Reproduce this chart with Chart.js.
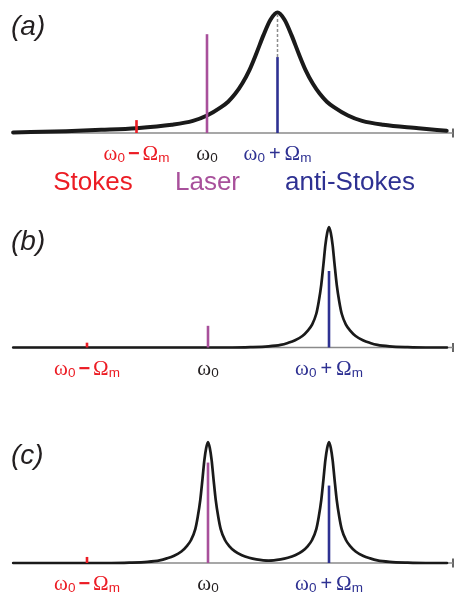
<!DOCTYPE html>
<html>
<head>
<meta charset="utf-8">
<script src="https://cdn.jsdelivr.net/npm/chart.js@4.4.0/dist/chart.umd.min.js"></script>
<style>
  html, body { margin: 0; padding: 0; background: #fff; overflow: hidden; }
  #wrap { position: relative; width: 454px; height: 593px; }
  canvas { position: absolute; left: 0; }
</style>
</head>
<body>
<div id="wrap">
  <canvas id="chartA" width="454" height="200" style="top:0"></canvas>
  <canvas id="chartB" width="454" height="200" style="top:200px"></canvas>
  <canvas id="chartC" width="454" height="193" style="top:400px"></canvas>
</div>
<script>
// frequency in units of Omega_m, with omega_0 = 0; heights relative to cavity peak
const lineX = [-1, 0, 1]; // Stokes, laser, anti-Stokes
const tickLabels = ["ω0−Ωm", "ω0", "ω0+Ωm"];
const words = ["Stokes", "Laser", "anti-Stokes"];
const panelNames = ["(a)", "(b)", "(c)"];

const aLineY = [0.107, 0.82, 0.63];
const bLineY = [0.04, 0.18, 0.635];
const cLineY = [0.05, 0.83, 0.64];
const aDashY = [0.63, 1.0];

const aCurveX = [-2.75, -2.0, -1.5, -1.0, -0.5, -0.2, 0.0, 0.2, 0.3, 0.4, 0.5, 0.6, 0.7, 0.8, 0.9, 1.0,
  1.1, 1.2, 1.3, 1.4, 1.5, 1.6, 1.7, 1.8, 2.0, 2.2, 2.5, 3.0, 3.4];
const aCurveY = [0.004, 0.015, 0.026, 0.04, 0.068, 0.10, 0.145, 0.215, 0.26, 0.325, 0.41, 0.52, 0.66, 0.81, 0.94, 1.0,
  0.94, 0.81, 0.66, 0.52, 0.41, 0.325, 0.26, 0.215, 0.145, 0.10, 0.068, 0.04, 0.018];

const bCurveX = [-1.61, 0.2, 0.35, 0.5, 0.6, 0.66, 0.72, 0.78, 0.825, 0.86, 0.895, 0.915, 0.936, 0.955, 0.97, 0.985, 1.0,
  1.015, 1.03, 1.045, 1.064, 1.085, 1.105, 1.14, 1.175, 1.22, 1.28, 1.34, 1.4, 1.5, 1.65, 1.8, 1.975];
const bCurveY = [0, 0, 0.003, 0.01, 0.022, 0.038, 0.06, 0.095, 0.14, 0.19, 0.28, 0.38, 0.52, 0.70, 0.85, 0.95, 1.0,
  0.95, 0.85, 0.70, 0.52, 0.38, 0.28, 0.19, 0.14, 0.095, 0.06, 0.038, 0.022, 0.01, 0.003, 0, 0];

const cCurveX = [-1.61, -0.8, -0.65, -0.5, -0.4, -0.34, -0.28, -0.22, -0.175, -0.14, -0.105, -0.085, -0.064, -0.045, -0.03, -0.015, 0,
  0.015, 0.03, 0.045, 0.064, 0.085, 0.105, 0.14, 0.175, 0.22, 0.28, 0.34, 0.4, 0.5, 0.6, 0.66, 0.72, 0.78, 0.825, 0.86,
  0.895, 0.915, 0.936, 0.955, 0.97, 0.985, 1.0, 1.015, 1.03, 1.045, 1.064, 1.085, 1.105, 1.14, 1.175, 1.22, 1.28,
  1.34, 1.4, 1.5, 1.65, 1.8, 1.975];
const cCurveY = [0, 0, 0.003, 0.01, 0.022, 0.038, 0.06, 0.095, 0.14, 0.19, 0.28, 0.38, 0.52, 0.70, 0.85, 0.95, 1.0,
  0.95, 0.85, 0.70, 0.52, 0.38, 0.28, 0.19, 0.14, 0.098, 0.064, 0.043, 0.03, 0.02, 0.03, 0.043, 0.064, 0.098, 0.14, 0.19,
  0.28, 0.38, 0.52, 0.70, 0.85, 0.95, 1.0, 0.95, 0.85, 0.70, 0.52, 0.38, 0.28, 0.19, 0.14, 0.095, 0.06,
  0.038, 0.022, 0.01, 0.003, 0, 0];

const stickColors = ["#ec1c24", "#a8509b", "#2e3192"];
const labelColors = ["#ec1c24", "#231f20", "#2e3192"];

function pts(xs, ys) {
  return xs.map((x, i) => ({ x: x, y: ys[i] }));
}

// draws w0-Wm style labels: '0' and 'm' as subscripts
function mathLabel(ctx, text, cx, base, color) {
  const parts = [];
  for (const ch of text) {
    if (ch === "0" || ch === "m") parts.push({ ch, font: '13.5px "Liberation Sans"', dy: 2, pad: 0 });
    else if (ch === "ω" || ch === "Ω") parts.push({ ch, font: '21px "Liberation Serif"', dy: 0, pad: 0 });
    else if (ch === "−") parts.push({ ch, font: 'bold 20px "Liberation Sans"', dy: 0, pad: 3 });
    else parts.push({ ch, font: '20px "Liberation Sans"', dy: 0, pad: 4 });
  }
  let w = 0;
  parts.forEach(p => { ctx.font = p.font; p.w = ctx.measureText(p.ch).width; w += p.w + 2 * p.pad; });
  let x = cx - w / 2;
  ctx.fillStyle = color;
  ctx.textAlign = "left";
  ctx.textBaseline = "alphabetic";
  parts.forEach(p => {
    ctx.font = p.font;
    x += p.pad;
    ctx.fillText(p.ch, x, base + p.dy);
    x += p.w + p.pad;
  });
}

const labelPlugin = {
  id: "labels",
  afterDatasetsDraw(chart, args, opts) {
    const ctx = chart.ctx;
    const xs = chart.scales.x, ys = chart.scales.y;
    const base = ys.getPixelForValue(0) + 27;
    ctx.save();
    lineX.forEach((v, i) => mathLabel(ctx, tickLabels[i], xs.getPixelForValue(v), base, labelColors[i]));
    ctx.fillStyle = "#231f20";
    ctx.font = 'italic 28px "Liberation Sans"';
    ctx.textAlign = "left";
    ctx.fillText(opts.name, 11, opts.nameY);
    if (opts.words) {
      const cx = [93, 207.5, 350];
      ctx.font = '26px "Liberation Sans"';
      ctx.textAlign = "center";
      words.forEach((t, i) => {
        ctx.fillStyle = stickColors[i];
        ctx.fillText(t, cx[i], 190);
      });
    }
    ctx.restore();
  }
};

function makeChart(id, c) {
  const yMin = -0.2, yMax = 1.08;
  const h = document.getElementById(id).height;
  const datasets = [];
  lineX.forEach((x, i) => {
    datasets.push({
      data: pts([x, x], [0, c.stickY[i]]),
      borderColor: stickColors[i], borderWidth: 2.6, order: 0
    });
  });
  if (c.dashY) {
    datasets.push({
      data: pts([1, 1], c.dashY),
      borderColor: "#8c8c8c", borderWidth: 1.5, borderDash: [3, 2], order: 1
    });
  }
  datasets.push({
    data: pts(c.curveX, c.curveY),
    borderColor: "#1a1a1a", borderWidth: c.curveWidth, cubicInterpolationMode: "monotone",
    borderJoinStyle: "round", borderCapStyle: "round", order: 2
  });
  datasets.push({
    data: pts([c.xMin, c.xMax], [0, 0]),
    borderColor: "#8a8a8a", borderWidth: 1.5, order: 3
  });
  datasets.push({
    data: pts([c.xMax, c.xMax], [-0.037, 0.037]),
    borderColor: "#333333", borderWidth: 1.5, order: 3
  });
  datasets.forEach(d => { d.pointRadius = 0; d.fill = false; d.clip = false; });

  return new Chart(id, {
    type: "line",
    data: { datasets: datasets },
    options: {
      responsive: false,
      animation: false,
      events: [],
      layout: {
        padding: {
          left: 13, right: 1,
          top: c.yZero - yMax * c.yUnit,
          bottom: h - (c.yZero - yMin * c.yUnit)
        }
      },
      scales: {
        x: { type: "linear", min: c.xMin, max: c.xMax, display: false },
        y: { type: "linear", min: yMin, max: yMax, display: false }
      },
      plugins: {
        legend: { display: false },
        tooltip: { enabled: false },
        labels: { name: c.name, nameY: c.nameY, words: c.words }
      }
    },
    plugins: [labelPlugin]
  });
}

makeChart("chartA", {
  curveX: aCurveX, curveY: aCurveY, stickY: aLineY, dashY: aDashY,
  xMin: (13 - 207) / 70.5, xMax: (453 - 207) / 70.5,
  yZero: 133, yUnit: 120.5, curveWidth: 4,
  name: panelNames[0], nameY: 35, words: true
});
makeChart("chartB", {
  curveX: bCurveX, curveY: bCurveY, stickY: bLineY,
  xMin: (13 - 208) / 121, xMax: (453 - 208) / 121,
  yZero: 147.5, yUnit: 120.5, curveWidth: 2.7,
  name: panelNames[1], nameY: 50, words: false
});
makeChart("chartC", {
  curveX: cCurveX, curveY: cCurveY, stickY: cLineY,
  xMin: (13 - 208) / 121, xMax: (453 - 208) / 121,
  yZero: 163, yUnit: 121, curveWidth: 2.7,
  name: panelNames[2], nameY: 64, words: false
});
</script>
</body>
</html>
